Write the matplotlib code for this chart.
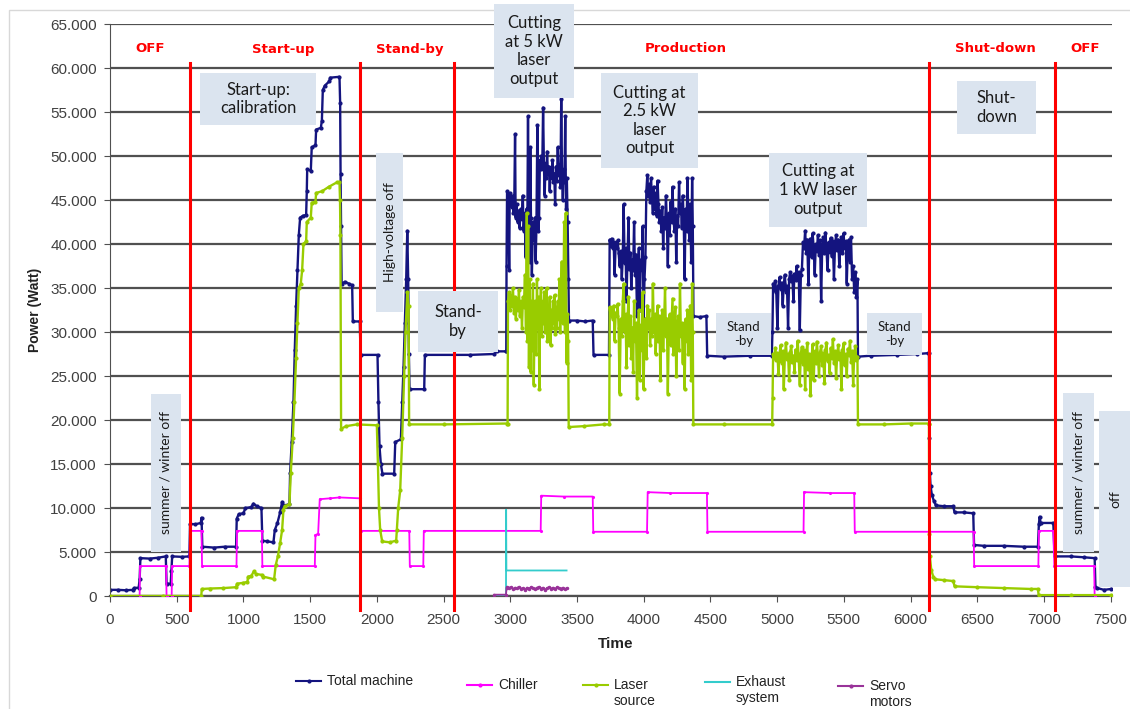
import matplotlib
matplotlib.use('Agg')
import matplotlib.pyplot as plt
from matplotlib.patches import Rectangle
from matplotlib.lines import Line2D
from matplotlib.ticker import FuncFormatter, MultipleLocator

total_machine = [
    (0, 700), (60, 700), (120, 650), (170, 700), (180, 900), (215, 950), (222, 1900), (228, 4300),
    (300, 4250), (360, 4350), (418, 4500), (424, 1400), (455, 1400), (460, 2800), (466, 4500),
    (540, 4450), (595, 4500),
    (600, 8200), (640, 8150), (680, 8300), (686, 8900), (692, 5600), (780, 5500), (860, 5600),
    (945, 5600), (950, 8800), (965, 9300), (1000, 9400), (1015, 10000), (1060, 10100),
    (1075, 10500), (1100, 10200), (1135, 10000), (1142, 6300), (1180, 6200), (1225, 6100),
    (1235, 7500), (1255, 8300), (1275, 9500), (1290, 10700), (1300, 10300), (1345, 10400),
    (1350, 14000), (1362, 17500), (1375, 22000), (1385, 28000), (1395, 33000), (1405, 37000),
    (1415, 41000), (1425, 43000), (1445, 43200), (1470, 43300), (1475, 46000), (1478, 48500),
    (1505, 48300), (1512, 51000), (1540, 51200), (1545, 53000), (1580, 53200), (1588, 54000),
    (1595, 57500), (1610, 58000), (1645, 58500), (1650, 58900), (1720, 59000), (1725, 56000),
    (1728, 48000), (1732, 42000), (1736, 35500), (1760, 35700), (1790, 35500), (1815, 35300),
    (1820, 31200), (1872, 31200),
    (1878, 27400), (2005, 27400), (2012, 22000), (2020, 17000), (2030, 15000), (2042, 13900),
    (2130, 13900), (2138, 17500), (2180, 17800), (2190, 22000), (2200, 26000), (2210, 31000),
    (2220, 36000), (2228, 41500), (2235, 36000), (2240, 27500), (2245, 23500), (2355, 23500),
    (2360, 27400), (2700, 27400), (2880, 27500), (2900, 27800), (2965, 27800),
    (2970, 27800), (2972, 37500), (2976, 46000), (2985, 45500), (2992, 37000), (2996, 45800),
    (3005, 45000), (3012, 44200), (3018, 45500), (3024, 43500), (3030, 44800), (3036, 52500),
    (3040, 43000), (3048, 44500), (3055, 42500), (3062, 43800), (3070, 41800), (3078, 44000),
    (3086, 42800), (3094, 45500), (3100, 41500), (3108, 43500), (3115, 38500), (3122, 44000),
    (3128, 42000), (3133, 54500), (3138, 41000), (3145, 38000), (3150, 51000), (3155, 43000),
    (3162, 36500), (3170, 42500), (3178, 40500), (3185, 43000), (3190, 38000), (3196, 41800),
    (3203, 53500), (3210, 41500), (3216, 43000), (3222, 49500), (3228, 48500), (3234, 50000),
    (3240, 48800), (3246, 55500), (3252, 49200), (3258, 45500), (3264, 49000), (3270, 47500),
    (3276, 50500), (3282, 48000), (3290, 48800), (3296, 46000), (3302, 48500), (3310, 47500),
    (3316, 49500), (3322, 47000), (3330, 48000), (3336, 44500), (3342, 48800), (3350, 47200),
    (3356, 51000), (3362, 47800), (3370, 49000), (3376, 46500), (3382, 56500), (3388, 48000),
    (3394, 45000), (3400, 48500), (3406, 47000), (3412, 54500), (3418, 44000), (3424, 47500),
    (3430, 42500), (3436, 36000), (3440, 31300), (3500, 31300), (3560, 31200), (3618, 31300),
    (3624, 27400), (3740, 27400),
    (3745, 40500), (3752, 39800), (3760, 40600), (3768, 39500), (3775, 40200), (3782, 36500),
    (3790, 40000), (3798, 39600), (3805, 40400), (3812, 39000), (3820, 37500), (3828, 39200),
    (3836, 36000), (3843, 38500), (3850, 44500), (3857, 37800), (3864, 39500), (3871, 33500),
    (3878, 38000), (3886, 43000), (3893, 37200), (3900, 39000), (3907, 35000), (3914, 38200),
    (3921, 37000), (3928, 42500), (3935, 36500), (3942, 38800), (3950, 31800), (3957, 37500),
    (3964, 39500), (3971, 32500), (3978, 38200), (3985, 37000), (3992, 42000), (3999, 31500),
    (4006, 36000), (4013, 38500), (4020, 46000), (4027, 47800), (4034, 45500), (4041, 46800),
    (4048, 44800), (4055, 47500), (4062, 45200), (4069, 43500), (4076, 46500), (4083, 44000),
    (4090, 45800), (4097, 43200), (4104, 47200), (4111, 44500), (4118, 42500), (4125, 43800),
    (4132, 41500), (4139, 44200), (4146, 39500), (4153, 43000), (4160, 41800), (4167, 45500),
    (4174, 42200), (4181, 37500), (4188, 43500), (4195, 41000), (4202, 44800), (4209, 42500),
    (4216, 46500), (4223, 43000), (4230, 41500), (4237, 44000), (4244, 38000), (4251, 43200),
    (4258, 42000), (4265, 47000), (4272, 43500), (4279, 44500), (4286, 41800), (4293, 45500),
    (4300, 42800), (4307, 36000), (4314, 44000), (4321, 41500), (4328, 47500), (4335, 43000),
    (4342, 40500), (4349, 44500), (4356, 38000), (4363, 47500), (4368, 42000), (4373, 31800),
    (4420, 31700), (4470, 31800), (4476, 27300), (4600, 27200), (4800, 27300), (4960, 27300),
    (4965, 30000), (4970, 35500), (4978, 34800), (4986, 35800), (4994, 34500), (5002, 30500),
    (5010, 35200), (5018, 36200), (5026, 34900), (5034, 35600), (5042, 33000), (5050, 35400),
    (5058, 36500), (5066, 34600), (5074, 35200), (5082, 30500), (5090, 36000), (5098, 36800),
    (5106, 35800), (5114, 36400), (5122, 33500), (5130, 36600), (5138, 35900), (5146, 37500),
    (5154, 36200), (5162, 36800), (5170, 30200), (5178, 36500), (5186, 37200), (5194, 40200),
    (5202, 39500), (5210, 41500), (5218, 39000), (5226, 40500), (5234, 35500), (5242, 39800),
    (5250, 40600), (5258, 38500), (5266, 41200), (5274, 39600), (5282, 36500), (5290, 40000),
    (5298, 39200), (5306, 41000), (5314, 38800), (5322, 40400), (5330, 33500), (5338, 39700),
    (5346, 40800), (5354, 39000), (5362, 41300), (5370, 39400), (5378, 37000), (5386, 40200),
    (5394, 39100), (5402, 40700), (5410, 38600), (5418, 40300), (5426, 36000), (5434, 39800),
    (5442, 41000), (5450, 39300), (5458, 40500), (5466, 37500), (5474, 39900), (5482, 40800),
    (5490, 39000), (5498, 41200), (5506, 39500), (5514, 40300), (5522, 35500), (5530, 39600),
    (5538, 40500), (5546, 38000), (5554, 40800), (5562, 36000), (5570, 37500), (5578, 34500),
    (5586, 36800), (5594, 34000), (5602, 36000), (5606, 27200), (5700, 27300), (5900, 27400),
    (6050, 27500), (6130, 27600),
    (6138, 27600), (6140, 18000), (6145, 14000), (6150, 12500), (6160, 11500), (6175, 10800),
    (6190, 10300), (6250, 10200), (6320, 10200), (6330, 9500), (6400, 9500), (6470, 9400),
    (6476, 5800), (6550, 5700), (6700, 5700), (6850, 5600), (6955, 5600), (6962, 8200),
    (6968, 9000), (6975, 8300), (7070, 8300), (7080, 4500), (7200, 4500), (7300, 4400),
    (7380, 4300), (7386, 1000), (7400, 900), (7450, 700), (7505, 800),
]

chiller = [
    (0, 0), (222, 0), (225, 3400), (420, 3400), (424, 0), (462, 0), (466, 3400), (595, 3400),
    (600, 7400), (686, 7400), (690, 3400), (948, 3400), (952, 7400), (1138, 7400), (1142, 3400),
    (1535, 3400), (1540, 6900), (1560, 7100), (1572, 11000), (1650, 11100), (1720, 11200),
    (1872, 11100), (1878, 7400), (2243, 7400), (2247, 3400), (2348, 3400), (2352, 7400),
    (3228, 7400), (3232, 11400), (3400, 11300), (3618, 11300), (3622, 7300), (4025, 7300),
    (4030, 11800), (4200, 11700), (4474, 11700), (4478, 7300), (5198, 7300), (5202, 11800),
    (5400, 11700), (5578, 11700), (5582, 7300), (6473, 7300), (6477, 3400), (6958, 3400),
    (6962, 7400), (7070, 7400), (7078, 3400), (7376, 3400), (7380, 0), (7505, 0),
]

laser_source = [
    (0, 0), (400, 0), (684, 0), (688, 800), (750, 850), (850, 900), (946, 1000), (952, 1400),
    (1000, 1500), (1030, 1600), (1035, 2200), (1060, 2300), (1078, 2800), (1095, 2500),
    (1138, 2400), (1150, 2200), (1230, 1900), (1242, 3500), (1258, 4500), (1275, 6000),
    (1290, 7500), (1300, 9800), (1310, 10200), (1345, 10400), (1355, 14000), (1370, 18000),
    (1382, 22000), (1395, 27000), (1405, 31000), (1415, 35000), (1430, 35500), (1440, 37000),
    (1450, 40000), (1470, 40300), (1475, 42500), (1505, 43000), (1512, 44700), (1540, 44800),
    (1545, 45800), (1590, 46000), (1640, 46500), (1700, 47000), (1720, 47000), (1724, 45000),
    (1727, 41000), (1732, 19000), (1770, 19300), (1850, 19500), (2000, 19400), (2008, 15000),
    (2016, 10000), (2025, 7500), (2040, 6200), (2100, 6100), (2145, 6300), (2150, 7500),
    (2160, 10000), (2175, 12000), (2190, 18000), (2205, 25000), (2215, 30000), (2228, 34500),
    (2238, 33000), (2242, 19500), (2500, 19500), (2975, 19600),
    (2980, 19600), (2983, 33500), (2990, 34500), (2998, 32500), (3005, 34200), (3012, 33000),
    (3020, 35000), (3028, 32200), (3035, 34000), (3042, 31500), (3050, 33800), (3058, 32500),
    (3065, 34800), (3072, 31800), (3080, 33500), (3088, 30500), (3095, 34000), (3102, 32800),
    (3110, 36500), (3118, 30000), (3124, 43500), (3128, 29000), (3134, 42000), (3140, 26000),
    (3146, 36000), (3152, 25500), (3158, 33500), (3164, 28000), (3170, 35500), (3176, 24000),
    (3182, 31000), (3188, 33500), (3194, 27500), (3200, 36000), (3206, 30500), (3212, 34000),
    (3218, 23500), (3224, 33000), (3230, 35000), (3236, 29500), (3242, 33500), (3248, 31000),
    (3254, 34500), (3260, 30000), (3266, 32500), (3272, 35000), (3278, 29000), (3284, 33000),
    (3290, 31500), (3296, 34000), (3302, 28500), (3308, 32500), (3314, 30500), (3320, 33500),
    (3326, 31000), (3332, 34200), (3338, 29800), (3344, 32800), (3350, 30500), (3356, 33500),
    (3362, 31500), (3368, 36000), (3374, 30000), (3380, 34500), (3386, 38000), (3392, 31000),
    (3398, 33000), (3404, 42500), (3410, 30000), (3416, 43500), (3422, 26500), (3428, 32000),
    (3434, 29000), (3438, 19200), (3550, 19300), (3700, 19500), (3742, 19500),
    (3745, 32800), (3752, 31900), (3760, 32500), (3768, 31500), (3775, 33000), (3782, 29000),
    (3790, 32200), (3798, 31800), (3805, 33200), (3812, 30500), (3820, 23000), (3828, 31500),
    (3836, 29500), (3843, 33500), (3850, 35500), (3857, 30000), (3864, 32000), (3871, 26000),
    (3878, 31000), (3886, 34000), (3893, 28500), (3900, 31800), (3907, 27000), (3914, 30500),
    (3921, 25500), (3928, 33500), (3935, 29000), (3942, 31000), (3950, 22500), (3957, 30000),
    (3964, 32500), (3971, 24500), (3978, 30800), (3985, 28000), (3992, 34500), (3999, 23500),
    (4006, 29500), (4013, 31500), (4020, 27000), (4027, 33000), (4034, 30500), (4041, 32500),
    (4048, 28500), (4055, 31500), (4062, 29500), (4069, 35500), (4076, 30000), (4083, 32000),
    (4090, 27500), (4097, 31000), (4104, 33000), (4111, 29000), (4118, 31800), (4125, 24500),
    (4132, 30500), (4139, 32500), (4146, 28000), (4153, 31000), (4160, 35000), (4167, 29500),
    (4174, 31500), (4181, 23000), (4188, 30000), (4195, 32000), (4202, 28500), (4209, 31200),
    (4216, 33800), (4223, 27500), (4230, 30500), (4237, 32800), (4244, 25000), (4251, 30000),
    (4258, 31800), (4265, 28000), (4272, 35500), (4279, 29500), (4286, 31000), (4293, 26500),
    (4300, 30800), (4307, 23500), (4314, 31500), (4321, 29000), (4328, 32500), (4335, 27500),
    (4342, 30500), (4349, 33000), (4356, 24500), (4363, 35500), (4368, 30000), (4372, 19500),
    (4600, 19500), (4963, 19500),
    (4966, 22500), (4970, 27500), (4978, 27000), (4986, 28200), (4994, 26800), (5002, 27600),
    (5010, 25200), (5018, 27400), (5026, 28500), (5034, 26500), (5042, 27800), (5050, 23500),
    (5058, 27200), (5066, 28800), (5074, 26900), (5082, 27500), (5090, 24500), (5098, 27700),
    (5106, 28400), (5114, 26600), (5122, 27300), (5130, 25500), (5138, 28000), (5146, 26800),
    (5154, 29000), (5162, 27100), (5170, 24000), (5178, 27600), (5186, 28300), (5194, 26400),
    (5202, 27900), (5210, 23500), (5218, 27300), (5226, 28700), (5234, 25800), (5242, 27500),
    (5250, 22800), (5258, 27000), (5266, 28600), (5274, 24500), (5282, 27800), (5290, 26500),
    (5298, 28900), (5306, 27200), (5314, 25000), (5322, 27700), (5330, 28400), (5338, 26300),
    (5346, 27600), (5354, 24200), (5362, 27900), (5370, 28800), (5378, 26700), (5386, 27400),
    (5394, 25300), (5402, 28200), (5410, 27000), (5418, 29200), (5426, 26500), (5434, 27800),
    (5442, 24800), (5450, 27300), (5458, 28500), (5466, 26900), (5474, 27600), (5482, 23500),
    (5490, 27900), (5498, 28700), (5506, 26200), (5514, 27500), (5522, 25000), (5530, 28100),
    (5538, 27400), (5546, 29000), (5554, 26600), (5562, 27800), (5570, 24000), (5578, 27500),
    (5586, 28400), (5594, 26800), (5602, 27200), (5606, 19500), (5800, 19500), (6000, 19600),
    (6136, 19600),
    (6138, 19600), (6140, 7000), (6145, 4500), (6155, 3000), (6170, 2200), (6185, 1900),
    (6250, 1800), (6320, 1700), (6330, 1100), (6500, 1000), (6700, 900), (6900, 800),
    (6955, 800), (6960, 100), (7200, 100), (7505, 100),
]

exhaust_system = [(2880, 0), (2968, 0), (2969, 9800), (2971, 2900), (3422, 2900)]

servo_motors = [
    (2880, 150), (2968, 150), (2972, 900), (2975, 1050), (2990, 950), (3005, 1000), (3020, 800),
    (3035, 950), (3050, 900), (3065, 1050), (3080, 850), (3095, 900), (3110, 700), (3125, 950),
    (3140, 850), (3155, 1000), (3170, 900), (3185, 800), (3200, 950), (3215, 1050), (3230, 850),
    (3245, 950), (3260, 700), (3275, 900), (3290, 1000), (3305, 850), (3320, 950), (3335, 800),
    (3350, 1000), (3365, 900), (3380, 850), (3395, 950), (3410, 750), (3422, 900),
]

# phase boundaries (red lines) and phase names
phase_bounds = [600, 1876, 2578, 6138, 7080]
phase_names = ['OFF', 'Start-up', 'Stand-by', 'Production', 'Shut-down', 'OFF']

W, H = 1130, 709


def fx(px):
    return px / W


def fy(py):
    return 1 - py / H


fig = plt.figure(figsize=(W / 100, H / 100), dpi=100)
ax = fig.add_axes([fx(110), fy(596), 1002 / W, 572 / H])

# name, data, colour, marker size, line width, zorder
series = [
    ('Total machine', total_machine, '#14147f', 4.0, 1.7, 2),
    ('Chiller', chiller, '#ff00ff', 2.5, 1.3, 3),
    ('Laser\nsource', laser_source, '#99cc00', 4.0, 1.7, 4),
    ('Exhaust\nsystem', exhaust_system, '#33cccc', 0, 1.3, 5),
    ('Servo\nmotors', servo_motors, '#993399', 3.0, 1.3, 6),
]
for name, pts, col, ms, lw, z in series:
    t = [p[0] for p in pts]
    w = [p[1] for p in pts]
    ax.plot(t, w, color=col, lw=lw, marker='.' if ms else None, ms=ms, zorder=z)

for b in phase_bounds:
    ax.axvline(b, ymin=-0.0245, ymax=0.932, color='#ff0000', lw=2.2, clip_on=False, zorder=8)

ax.set_xlim(0, 7510)
ax.set_ylim(0, 65000)
ax.xaxis.set_major_locator(MultipleLocator(500))
ax.yaxis.set_major_locator(MultipleLocator(5000))
ax.yaxis.set_major_formatter(FuncFormatter(lambda v, p: f"{int(v):,}".replace(',', '.')))
ax.yaxis.grid(True, color='#505050', lw=1.6)
ax.set_axisbelow(True)
for s in ['top', 'right']:
    ax.spines[s].set_visible(False)
ax.spines['left'].set_color('#505050')
ax.spines['bottom'].set_color('#505050')
ax.spines['bottom'].set_linewidth(1.6)
ax.tick_params(axis='y', length=4, color='#505050', pad=5.5, labelsize=11, labelcolor='#404040')
ax.tick_params(axis='x', length=4, color='#505050', pad=8, labelsize=11, labelcolor='#404040')
for lab in ax.get_xticklabels() + ax.get_yticklabels():
    lab.set_family('Liberation Sans')

fig.text(fx(35), fy(310), 'Power (Watt)', rotation=90, ha='center', va='center',
         fontsize=10, fontweight='bold', family='Liberation Sans', color='#222222')
fig.text(fx(616), fy(644), 'Time', ha='center', va='center',
         fontsize=11, fontweight='bold', family='Liberation Sans', color='#222222')

# phase names in red above the chart
name_px = [150, 283, 410, 686, 995, 1085]
for name, px in zip(phase_names, name_px):
    fig.text(fx(px), fy(49), name, ha='center', va='center', color='#ff0000',
             fontsize=9.5, fontweight='bold', family='DejaVu Sans', zorder=9)

# comment boxes: (x0, y0, x1, y1) in pixels, text, font size, rotation
boxes = [
    ((200, 73, 316, 125), 'Start-up:\ncalibration', 12, 0),
    ((376, 153, 403, 312), 'High-voltage off', 10, 90),
    ((418, 291, 498, 352), 'Stand-\nby', 12, 0),
    ((494, 4, 574, 98), 'Cutting\nat 5 kW\nlaser\noutput', 12, 0),
    ((601, 73, 698, 168), 'Cutting at\n2.5 kW\nlaser\noutput', 12, 0),
    ((769, 153, 867, 227), 'Cutting at\n1 kW laser\noutput', 12, 0),
    ((716, 313, 771, 355), 'Stand\n-by', 9.5, 0),
    ((867, 313, 922, 355), 'Stand\n-by', 9.5, 0),
    ((957, 81, 1036, 134), 'Shut-\ndown', 12, 0),
    ((151, 394, 181, 552), 'summer / winter off', 10, 90),
    ((1063, 393, 1094, 552), 'summer / winter off', 10, 90),
    ((1099, 411, 1132, 587), 'off', 10, 90),
]
for (x0, y0, x1, y1), txt, size, rot in boxes:
    fig.add_artist(Rectangle((fx(x0), fy(y1)), (x1 - x0) / W, (y1 - y0) / H,
                             transform=fig.transFigure, facecolor='#dbe4ef',
                             edgecolor='none', zorder=10))
    fig.text(fx((x0 + x1) / 2), fy((y0 + y1) / 2), txt, ha='center', va='center',
             rotation=rot, fontsize=size, family='Lato', color='#1a1a1a',
             linespacing=1.2, zorder=11)

# legend below the chart: handle position and text centre (pixels)
legend_px = [(296, 681, 681), (467, 685, 685), (583, 685, 693), (705, 682, 690), (838, 686, 694)]
for (name, pts, col, ms, lw, z), (px, py, ty) in zip(series, legend_px):
    fig.add_artist(Line2D([fx(px), fx(px + 25)], [fy(py), fy(py)], transform=fig.transFigure,
                          color=col, lw=1.5))
    if ms:
        fig.add_artist(Line2D([fx(px + 12.5)], [fy(py)], transform=fig.transFigure,
                              color=col, marker='.', ms=4, lw=0))
    fig.text(fx(px + 31), fy(ty), name, ha='left', va='center',
             fontsize=10, family='Liberation Sans', color='#222222', linespacing=1.1)

# light outer frame of the chart area
fig.add_artist(Rectangle((fx(9), fy(720)), 1.1, (720 - 10) / H, transform=fig.transFigure,
                         fill=False, edgecolor='#d8d8d8', lw=1))

fig.savefig('out.png', dpi=100)
